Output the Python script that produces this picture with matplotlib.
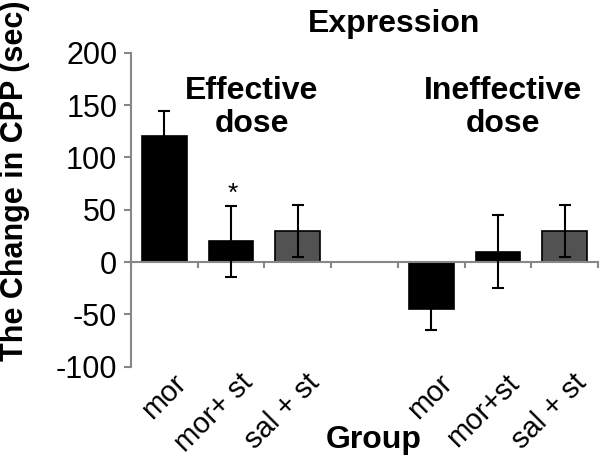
import matplotlib.pyplot as plt
from matplotlib import transforms

plt.rcParams['font.family'] = ['Liberation Sans', 'DejaVu Sans']
plt.rcParams['axes.unicode_minus'] = False

# data
GROUPS = ["Effective\ndose", "Ineffective\ndose"]
LABELS = ["mor", "mor+ st", "sal + st", "mor", "mor+st", "sal + st"]
MEANS = [120, 20, 30, -45, 10, 30]
ERRS = [24, 34, 25, 20, 35, 25]
COLORS = ['black', 'black', '#525252', 'black', 'black', '#525252']
STARRED = [False, True, False, False, False, False]

AXIS_GREY = '#878787'


def draw():
    fig = plt.figure(figsize=(6.06, 4.63), dpi=100)
    ax = fig.add_axes([0.2162, 0.208, 0.7706, 0.678])

    n = len(LABELS) // len(GROUPS)
    pos = [g * (n + 1) + i for g in range(len(GROUPS)) for i in range(n)]

    ax.bar(pos, MEANS, width=0.67, color=COLORS, edgecolor='black', linewidth=1.2, zorder=2)
    ax.errorbar(pos, MEANS, yerr=ERRS, fmt='none', ecolor='black', elinewidth=1.5,
                capsize=4, capthick=1.5, zorder=3)

    for p, m, e, s in zip(pos, MEANS, ERRS, STARRED):
        if s:
            ax.annotate('*', (p, m + e), xytext=(1, 0), textcoords='offset points',
                        ha='center', va='bottom', fontsize=19)

    ax.set_xlim(-0.5, len(GROUPS) * (n + 1) - 1.5)
    ax.set_ylim(-100, 200)
    ax.set_yticks(range(-100, 201, 50))
    ax.tick_params(axis='y', labelsize=22, direction='out', length=5, width=1.5,
                   color=AXIS_GREY, pad=5)

    for side in ['top', 'right']:
        ax.spines[side].set_visible(False)
    ax.spines['left'].set_color(AXIS_GREY)
    ax.spines['left'].set_linewidth(1.5)
    ax.spines['bottom'].set_position(('data', 0))
    ax.spines['bottom'].set_color(AXIS_GREY)
    ax.spines['bottom'].set_linewidth(1.5)

    # category boundary ticks on the zero line, labels below the plot
    ax.set_xticks([x + 0.5 for x in range(-1, len(GROUPS) * (n + 1) - 1)])
    ax.tick_params(axis='x', direction='out', length=4, width=1.5, color=AXIS_GREY,
                   labelbottom=False)
    trans = transforms.blended_transform_factory(ax.transData, ax.transAxes)
    off = transforms.ScaledTranslation(27 / 100, -2 / 100, fig.dpi_scale_trans)
    for p, lab in zip(pos, LABELS):
        ax.text(p, 0, lab, transform=trans + off, rotation=45, ha='right', va='top',
                fontsize=21)

    # group captions
    centers = [sum(pos[g * n:(g + 1) * n]) / n for g in range(len(GROUPS))]
    shifts = [0.31, 0.07]
    for c, d, g in zip(centers, shifts, GROUPS):
        ax.text(c + d, 0.825, g, transform=trans, ha='center', va='center',
                fontsize=23, fontweight='bold', linespacing=1.15)

    fig.text(394 / 606, 1 - 32 / 463, 'Expression', ha='center', va='baseline',
             fontsize=23, fontweight='bold')
    fig.text(374 / 606, 1 - 448 / 463, 'Group', ha='center', va='baseline',
             fontsize=23, fontweight='bold')
    fig.text(15 / 606, 1 - 181 / 463, 'The Change in CPP (sec)', rotation=90,
             ha='center', va='center', fontsize=22, fontweight='bold')

    fig.savefig('out.png', dpi=100)


def main():
    draw()


main()
